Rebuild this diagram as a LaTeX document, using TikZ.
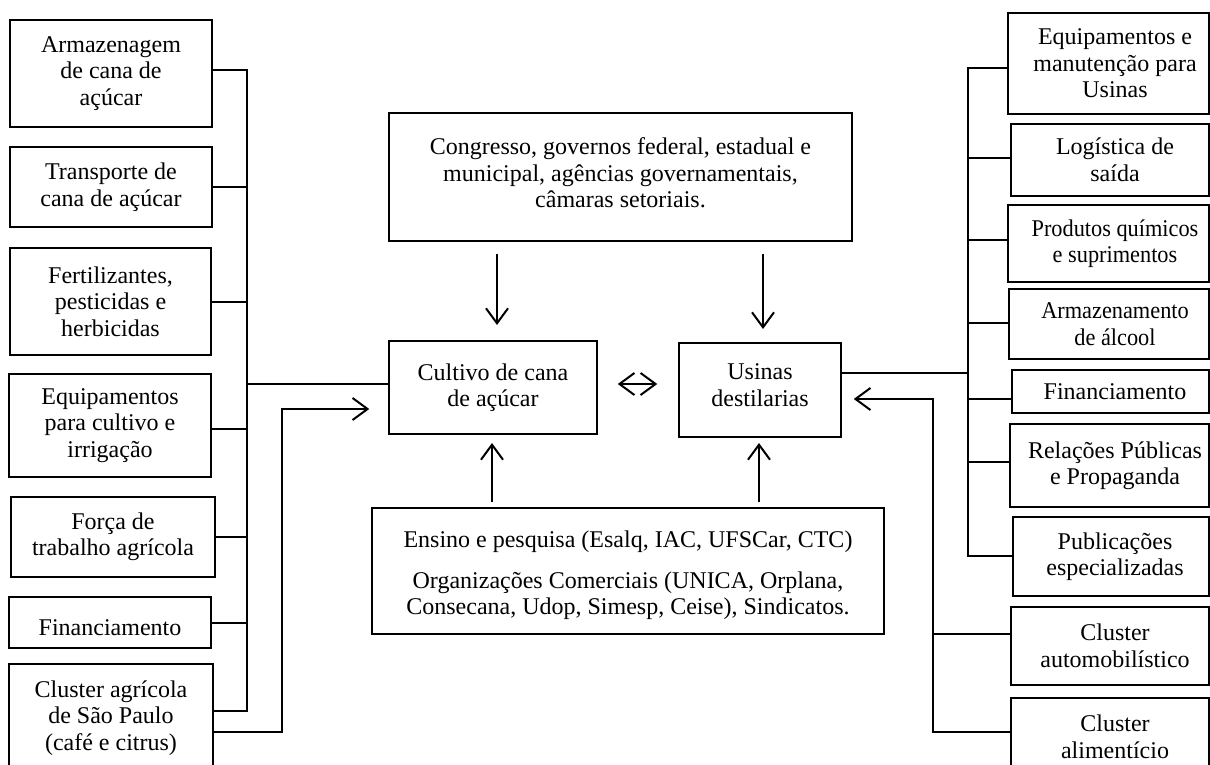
\documentclass[tikz,border=0pt]{standalone}
\usepackage{fontspec}
\setmainfont{Liberation Serif}
\usepackage{graphicx}
\usetikzlibrary{arrows.meta}
\begin{document}
\begin{tikzpicture}[x=1pt,y=-1pt,
  box/.style={draw, line width=1.5pt, align=center, inner sep=0pt, font=\fontsize{24}{26.5}\selectfont},
  ln/.style={line width=2pt},
  tip/.tip={Straight Barb[length=15pt,width=22pt,line width=2pt]},
  arr/.style={line width=2pt, -tip},
  dbl/.style={line width=2pt, tip-tip},
]
\useasboundingbox (0,0) rectangle (1210,765);
\clip (0,0) rectangle (1210,765);
\fill[white] (0,0) rectangle (1210,765);
% left column
\node[box, minimum width=202pt, minimum height=107pt] (L1) at (111,73.5) {Armazenagem\\de cana de\\açúcar};
\node[box, minimum width=202pt, minimum height=80pt] (L2) at (111,187) {Transporte de\\cana de açúcar};
\node[box, minimum width=201pt, minimum height=107pt] (L3) at (110.5,301.5) {Fertilizantes,\\pesticidas e\\herbicidas};
\node[box, minimum width=202pt, minimum height=103pt] (L4) at (110,425.5) {Equipamentos\\para cultivo e\\irrigação};
\node[box, minimum width=204pt, minimum height=80pt] (L5) at (113,537) {Força de\\trabalho agrícola};
\node[box, minimum width=202pt, minimum height=51pt] (L6) at (110,622.5) {\rule{0pt}{26pt}Financiamento};
\node[box, minimum width=204pt, minimum height=108pt] (L7) at (111,718) {Cluster agrícola\\de São Paulo\\(café e citrus)};
% centre
\node[box, minimum width=463pt, minimum height=128pt] (cong) at (620.5,177) {Congresso, governos federal, estadual e\\municipal, agências governamentais,\\câmaras setoriais.\rule[-8pt]{0pt}{8pt}};
\node[box, minimum width=208pt, minimum height=93pt] (cult) at (493,387.5) {Cultivo de cana\\de açúcar};
\node[box, minimum width=162pt, minimum height=94pt] (usin) at (760,390) {Usinas\\destilarias\rule[-10pt]{0pt}{10pt}};
\node[box, minimum width=512pt, minimum height=126pt] (ens) at (628,571) {\rule{0pt}{26pt}Ensino e pesquisa (Esalq, IAC, UFSCar, CTC)\\[14pt]Organizações Comerciais (UNICA, Orplana,\\Consecana, Udop, Simesp, Ceise), Sindicatos.};
% right column (text centred at x=1115, right border at 1209)
\node[box, minimum width=214pt, minimum height=101pt] (R1) at (1115,63.5) {Equipamentos e\\manutenção para\\Usinas};
\node[box, minimum width=208pt, minimum height=72pt] (R2) at (1115,160) {Logística de\\saída};
\node[box, minimum width=214pt, minimum height=77pt] (R3) at (1115,243.5) {\scalebox{0.93}[1]{Produtos químicos}\\\scalebox{0.93}[1]{e suprimentos}};
\node[box, minimum width=212pt, minimum height=70pt] (R4) at (1115,324) {\scalebox{0.93}[1]{Armazenamento}\\\scalebox{0.93}[1]{de álcool}};
\node[box, minimum width=206pt, minimum height=43pt] (R5) at (1115,391.5) {Financiamento};
\node[box, minimum width=210pt, minimum height=83pt] (R6) at (1115,465.5) {Relações Públicas\\e Propaganda};
\node[box, minimum width=204pt, minimum height=79pt] (R7) at (1115,556.5) {Publicações\\especializadas};
\node[box, minimum width=208pt, minimum height=78pt] (R8) at (1115,646) {Cluster\\automobilístico};
\node[box, minimum width=208pt, minimum height=78pt] (R9) at (1115,737) {Cluster\\alimentício};
\foreach \n in {R1,R2,R3,R4,R5,R6,R7,R8,R9}
  \draw[line width=1.5pt] (\n.north -| 1209,0) -- (\n.south -| 1209,0);
% left bus
\coordinate (lb) at (247,0);
\draw[ln] (L1.east |- 0,70) -- (lb |- 0,70) -- (lb |- 0,711) -- (L7.east |- 0,711);
\foreach \n in {L2,L3,L5,L6}
  \draw[ln] (\n.east) -- (lb |- \n.east);
\draw[ln] (L4.east |- 0,429) -- (lb |- 0,429);
\draw[ln] (lb |- 0,384) -- (cult.west |- 0,384);
\draw[arr] (L7.east |- 0,732) -- (282,732) -- (282,409) -- ([xshift=-19pt]cult.west |- 0,409);
% centre arrows
\draw[arr] (497,0 |- cong.south) ++(0,12) -- (497,325);
\draw[arr] (763,0 |- cong.south) ++(0,12) -- (763,329);
\draw[arr] (492,0 |- ens.north) ++(0,-5) -- (492,443);
\draw[arr] (759,0 |- ens.north) ++(0,-5) -- (759,443);
\draw[dbl, shorten <=20pt, shorten >=21pt] (cult.east |- 0,384) -- (usin.west |- 0,384);
% right bus
\coordinate (rb) at (968,0);
\draw[ln] (usin.east |- 0,373) -- (rb |- 0,373);
\draw[ln] (R1.west |- 0,68) -- (rb |- 0,68) -- (rb |- 0,556) -- (R7.west |- 0,556);
\draw[ln] (R2.west |- 0,158) -- (rb |- 0,158);
\draw[ln] (R3.west |- 0,240) -- (rb |- 0,240);
\draw[ln] (R4.west |- 0,323) -- (rb |- 0,323);
\draw[ln] (R5.west |- 0,399) -- (rb |- 0,399);
\draw[ln] (R6.west |- 0,462) -- (rb |- 0,462);
% second right bus
\coordinate (rc) at (933,0);
\draw[ln] (R9.west |- 0,732) -- (rc |- 0,732) -- (rc |- 0,634) -- (R8.west |- 0,634);
\draw[arr] (rc |- 0,634) -- (rc |- 0,399) -- ([xshift=12pt]usin.east |- 0,399);
\end{tikzpicture}
\end{document}
